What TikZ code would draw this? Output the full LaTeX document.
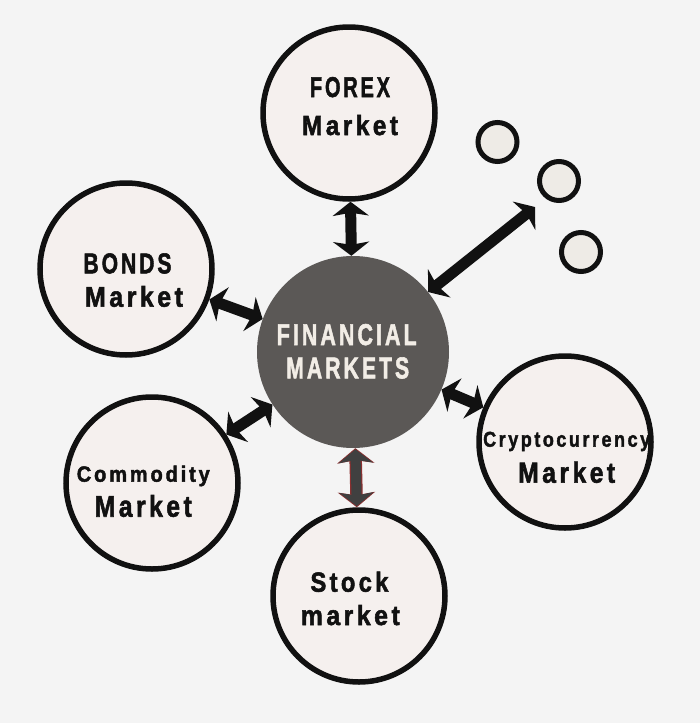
\documentclass[tikz,border=0pt]{standalone}
\usepackage{fontspec}
\usepackage{graphicx}
\usetikzlibrary{arrows.meta}
\newfontfamily\imp[LetterSpace=14,FakeBold=2]{Liberation Sans}
\newcommand{\fitt}[3]{\resizebox{#1pt}{#2pt}{\imp\bfseries #3}}
\definecolor{bg}{HTML}{F4F4F4}
\definecolor{circfill}{HTML}{F5F0EE}
\definecolor{hubfill}{HTML}{5B5856}
\definecolor{hubtext}{HTML}{F2EDE6}
\definecolor{dotfill}{HTML}{EEEBE6}
\definecolor{ink}{HTML}{111111}
\definecolor{stockfill}{HTML}{404040}
\definecolor{stockedge}{HTML}{8A3030}
\begin{document}
\begin{tikzpicture}[x=1pt,y=-1pt,
  market/.style={circle, draw=ink, line width=5.5pt, fill=circfill, minimum size=172pt, inner sep=0pt},
  hub/.style={circle, fill=hubfill, minimum size=192pt, inner sep=0pt},
  dotc/.style={circle, draw=ink, line width=5pt, fill=dotfill, minimum size=39pt, inner sep=0pt},
  lbl/.style={anchor=base, inner sep=0pt, text=ink},
  hublbl/.style={anchor=base, inner sep=0pt, text=hubtext},
  link/.style={draw=ink, line width=11pt, {Stealth[width=36pt 0 1,length=14pt 0 1,inset=3pt]}-{Stealth[width=36pt 0 1,length=14pt 0 1,inset=3pt]}},
  linkout/.style={draw=stockedge, line width=12.5pt, {Stealth[width=37pt 0 1,length=15pt 0 1,inset=3pt]}-{Stealth[width=37pt 0 1,length=15pt 0 1,inset=3pt]}},
  linkin/.style={draw=stockfill, line width=10pt, shorten <=1.2pt, shorten >=1.2pt, {Stealth[width=34pt 0 1,length=13.5pt 0 1,inset=3pt]}-{Stealth[width=34pt 0 1,length=13.5pt 0 1,inset=3pt]}}
]
\fill[bg] (0,0) rectangle (700,723);
\useasboundingbox (0,0) rectangle (700,723);

\node[hub] (hub) at (353,352) {};
\node[market] (forex) at (349,113) {};
\node[market] (bonds) at (126,269) {};
\node[market] (commodity) at (152,483) {};
\node[market] (stock) at (359,596) {};
\node[market] (crypto) at (565,442) {};
\node[dotc] (d1) at (497.5,142) {};
\node[dotc] (d2) at (559,181) {};
\node[dotc] (d3) at (581,252) {};
\coordinate (dotend) at (535,207);

\node[hublbl] (hubT1) at (346.7,345) {\fitt{140}{21}{FINANCIAL}};
\node[hublbl] (hubT2) at (347.7,378.3) {\fitt{123}{21}{MARKETS}};
\node[lbl] (forexT1) at (350,97) {\fitt{80}{20}{FOREX}};
\node[lbl] (forexT2) at (350,135) {\fitt{96}{20}{Market}};
\node[lbl] (bondsT1) at (127.5,273.3) {\fitt{88}{20}{BONDS}};
\node[lbl] (bondsT2) at (134,306.7) {\fitt{98}{20.7}{Market}};
\node[lbl] (commT1) at (143.3,481.7) {\fitt{133}{16}{Commodity}};
\node[lbl] (commT2) at (143.3,516.7) {\fitt{97}{21.7}{Market}};
\node[lbl] (stockT1) at (349.5,591.7) {\fitt{78}{20}{Stock}};
\node[lbl] (stockT2) at (350.3,625) {\fitt{99}{20}{market}};
\node[lbl] (cryptoT1) at (566.7,446.7) {\fitt{167}{15}{Cryptocurrency}};
\node[lbl] (cryptoT2) at (566.7,482.7) {\fitt{97}{21}{Market}};

\draw[link] (hub) -- (forex);
\draw[link] (hub) -- (bonds);
\draw[link] (hub) -- (commodity);
\draw[link] (hub) -- (crypto);
\draw[link] (hub) -- (dotend);
\draw[linkout] (hub) -- (stock);
\draw[linkin] (hub) -- (stock);
\end{tikzpicture}
\end{document}
